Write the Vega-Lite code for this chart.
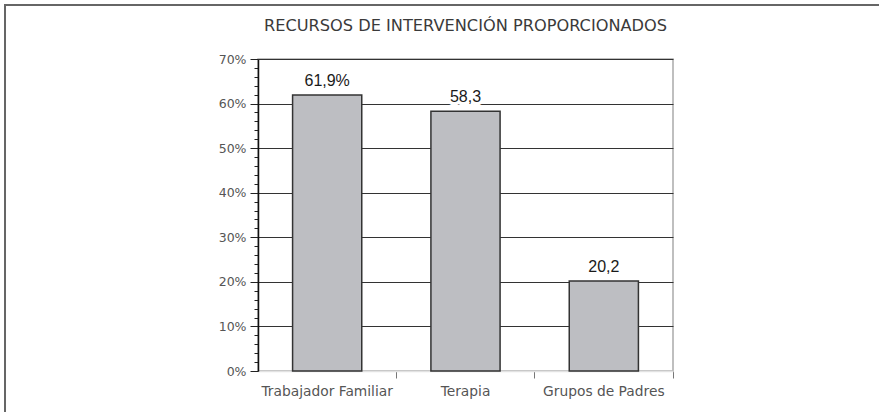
{
  "$schema": "https://vega.github.io/schema/vega-lite/v6.json",
  "padding": {"left": 4, "top": 4, "right": 0, "bottom": 0},
  "background": "white",
  "bounds": "flush",
  "spacing": 0,
  "hconcat": [
    {
      "width": 0.01,
      "height": 420,
      "view": {"stroke": "#666666", "strokeWidth": 2},
      "data": {"values": []},
      "mark": "point",
      "encoding": {}
    },
    {
      "bounds": "flush",
      "center": true,
      "spacing": 53,
      "vconcat": [
        {
          "width": 919,
          "height": 0.01,
          "view": {"stroke": "#666666", "strokeWidth": 2},
          "data": {"values": []},
          "mark": "point",
          "encoding": {}
        },
        {
          "width": 415,
          "height": 312,
          "view": {"stroke": "#aaaaaa", "strokeWidth": 1.5},
          "title": {
            "text": "RECURSOS DE INTERVENCIÓN PROPORCIONADOS",
            "frame": "group",
            "anchor": "middle",
            "font": "DejaVu Sans",
            "fontSize": 16.2,
            "fontWeight": "normal",
            "color": "#3a3a3a",
            "baseline": "alphabetic",
            "offset": 6
          },
          "data": {
            "values": [
              {"recurso": "Trabajador Familiar", "pct": 61.9, "etiqueta": "61,9%"},
              {"recurso": "Terapia", "pct": 58.3, "etiqueta": "58,3"},
              {"recurso": "Grupos de Padres", "pct": 20.2, "etiqueta": "20,2"}
            ]
          },
          "encoding": {
            "x": {
              "field": "recurso",
              "type": "nominal",
              "sort": null,
              "scale": {"paddingInner": 0.5, "paddingOuter": 0.25},
              "axis": {
                "title": null,
                "labelAngle": 0,
                "bandPosition": 1.5,
                "grid": false,
                "tickSize": 7,
                "tickColor": "#777777",
                "tickWidth": 1,
                "domainColor": "#e2e2e2",
                "domainWidth": 1.5,
                "labelPadding": 6,
                "labelFont": "DejaVu Sans",
                "labelFontSize": 13.8,
                "labelColor": "#555555"
              }
            },
            "y": {
              "field": "pct",
              "type": "quantitative",
              "scale": {"domain": [0, 70]},
              "axis": {
                "title": null,
                "values": [0, 2, 4, 6, 8, 10, 12, 14, 16, 18, 20, 22, 24, 26, 28, 30, 32, 34, 36, 38, 40, 42, 44, 46, 48, 50, 52, 54, 56, 58, 60, 62, 64, 66, 68, 70],
                "labelExpr": "datum.value % 10 === 0 ? datum.value + '%' : ''",
                "labelOverlap": false,
                "labelFont": "DejaVu Sans",
                "labelFontSize": 12.5,
                "labelColor": "#555555",
                "labelPadding": 4,
                "tickSize": {"condition": {"test": "datum.value % 10 === 0", "value": 8}, "value": 4},
                "tickColor": "#222222",
                "tickWidth": 1,
                "domainColor": "#111111",
                "domainWidth": 1.5,
                "grid": true,
                "gridColor": "#333333",
                "gridWidth": 1,
                "gridOpacity": {"condition": {"test": "datum.value % 10 === 0 && datum.value > 0", "value": 1}, "value": 0}
              }
            }
          },
          "layer": [
            {
              "mark": {"type": "bar", "fill": "#bdbec2", "stroke": "#333333", "strokeWidth": 1.5}
            },
            {
              "mark": {"type": "text", "baseline": "bottom", "dy": -6, "font": "Liberation Sans", "fontSize": 16, "stroke": "white", "strokeWidth": 7, "fill": "white"},
              "encoding": {"text": {"field": "etiqueta"}}
            },
            {
              "mark": {"type": "text", "baseline": "bottom", "dy": -6, "font": "Liberation Sans", "fontSize": 16, "fill": "#1a1a1a"},
              "encoding": {"text": {"field": "etiqueta"}}
            }
          ]
        }
      ]
    }
  ]
}
